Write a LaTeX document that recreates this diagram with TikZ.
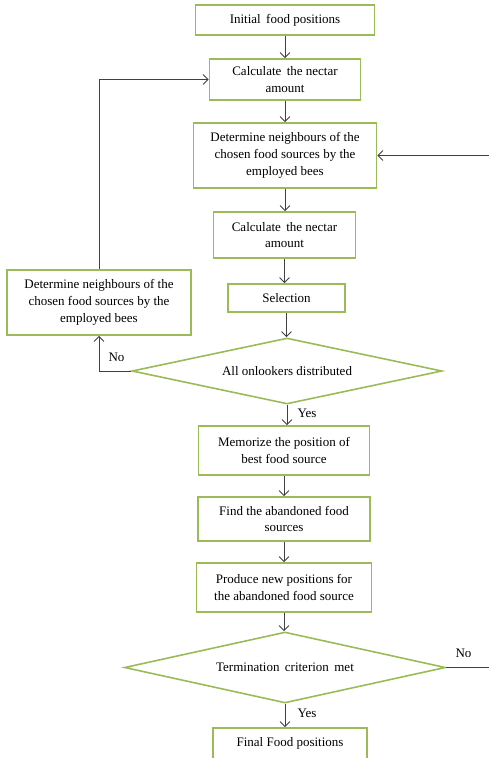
\documentclass[tikz,border=0pt]{standalone}
\usepackage{fontspec}
\setmainfont{Liberation Serif}
\definecolor{BoxGreen}{RGB}{155,187,89}
\definecolor{LineGray}{RGB}{64,64,64}
\usetikzlibrary{arrows.meta, shapes.geometric}
\tikzstyle{arrow} = [line width=0.9pt, LineGray, -{Straight Barb[length=5pt,width=10pt]}]
\tikzstyle{plainline} = [line width=0.9pt, LineGray]
\tikzset{
  block/.style={rectangle, draw=BoxGreen, line width=1.6pt, fill=white, align=center, inner sep=1pt,
    font=\fontsize{13}{16.7}\selectfont},
  decision/.style={diamond, aspect=5, draw=BoxGreen, line width=1.6pt, fill=white, inner sep=0pt,
    font=\fontsize{13}{16.7}\selectfont},
  answer/.style={font=\fontsize{13}{15}\selectfont}
}

\begin{document}
\begin{tikzpicture}[x=1pt, y=1pt]
    \useasboundingbox (0,0) rectangle (489,-758);

    % Main column
    \node[block, minimum width=179pt, minimum height=30pt] (init) at (285,-20) {Initial\, food positions};
    \node[block, minimum width=151pt, minimum height=41pt] (calcA) at (285,-79.5) {Calculate\, the nectar\\amount};
    \node[block, minimum width=183pt, minimum height=65pt] (detA) at (285,-155.5) {Determine neighbours of the\\chosen food sources by the\\employed bees};
    \node[block, minimum width=142pt, minimum height=46pt] (calcB) at (284.5,-235) {Calculate\, the nectar\\amount};
    \node[block, minimum width=117pt, minimum height=28pt] (select) at (286.5,-298) {Selection};
    \node[decision, minimum width=310pt, minimum height=66pt] (onlook) at (287,-371) {All onlookers distributed};

    % Onlooker loop box
    \node[block, minimum width=184pt, minimum height=65pt] (detB) at (99,-302.5) {Determine neighbours of the\\chosen food sources by the\\employed bees};

    \node[block, minimum width=171pt, minimum height=49pt] (memo) at (284,-450.5) {Memorize the position of\\best food source};
    \node[block, minimum width=172pt, minimum height=44pt] (find) at (284,-519) {Find the abandoned food\\sources};
    \node[block, minimum width=175pt, minimum height=49pt] (produce) at (284,-587.5) {Produce new positions for\\the abandoned food source};
    \node[decision, minimum width=321pt, minimum height=71pt] (term) at (285,-667.5) {Termination\, criterion\, met};
    \node[block, minimum width=154pt, minimum height=40pt, text depth=12pt] (final) at (290,-748) {Final Food positions};

    % Free ends at the right border
    \coordinate (rightA) at (489,-155.5);
    \coordinate (rightB) at (489,-667.5);

    % Straight connectors
    \draw[arrow] (init.south) -- (init.south |- calcA.north);
    \draw[arrow] (calcA.south) -- (calcA.south |- detA.north);
    \draw[arrow] (detA.south) -- (detA.south |- calcB.north);
    \draw[arrow] (calcB.south) -- (calcB.south |- select.north);
    \draw[arrow] (select.south) -- (select.south |- onlook.north);
    \draw[arrow] (onlook.south) -- (onlook.south |- memo.north);
    \draw[arrow] (memo.south) -- (memo.south |- find.north);
    \draw[arrow] (find.south) -- (find.south |- produce.north);
    \draw[arrow] (produce.south) -- (produce.south |- term.north);
    \draw[arrow] (term.south) -- (term.south |- final.north);

    % Loops
    \draw[arrow] (onlook.west) -| (detB.south);
    \draw[arrow] (detB.north) |- (calcA.west);
    \draw[arrow] (rightA) -- (detA.east);
    \draw[plainline] (term.east) -- (rightB);

    % Labels
    \node[answer, anchor=west] at (105,-357) {No};
    \node[answer, anchor=west] at (294,-413) {Yes};
    \node[answer, anchor=west] at (452,-653) {No};
    \node[answer, anchor=west] at (294,-713) {Yes};
\end{tikzpicture}
\end{document}
